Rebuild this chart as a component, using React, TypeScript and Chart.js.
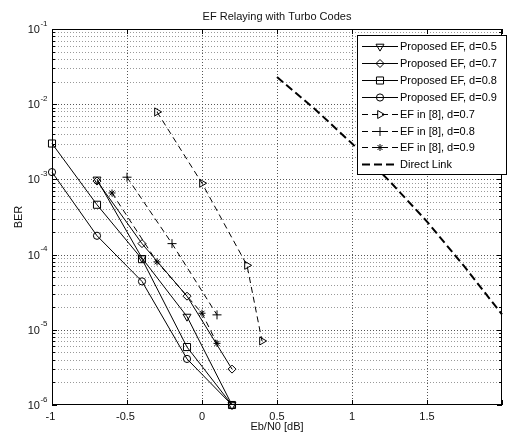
import React, { useEffect, useRef } from 'react';
import { Chart, registerables } from 'chart.js';

Chart.register(...registerables);

// ---------- data ----------
const xP05 = [-0.7, -0.4, -0.1, 0.2];
const yP05 = [1.0e-3, 9.0e-5, 1.5e-5, 1.0e-6];

const xP07 = [-0.7, -0.4, -0.1, 0.2];
const yP07 = [9.5e-4, 1.4e-4, 2.8e-5, 3.0e-6];

const xP08 = [-1, -0.7, -0.4, -0.1, 0.2];
const yP08 = [3.0e-3, 4.6e-4, 8.7e-5, 5.9e-6, 1.0e-6];

const xP09 = [-1, -0.7, -0.4, -0.1, 0.2];
const yP09 = [1.25e-3, 1.78e-4, 4.4e-5, 4.1e-6, 1.0e-6];

const xEF07 = [-0.3, 0, 0.3, 0.4];
const yEF07 = [7.9e-3, 8.9e-4, 7.2e-5, 7.1e-6];

const xEF08 = [-0.5, -0.2, 0.1];
const yEF08 = [1.07e-3, 1.4e-4, 1.58e-5];

const xEF09 = [-0.6, -0.3, 0, 0.1];
const yEF09 = [6.6e-4, 8.0e-5, 1.66e-5, 6.6e-6];

const xDirect = [0.5, 0.75, 1, 1.25, 1.5, 1.75, 2];
const yDirect = [2.3e-2, 8.7e-3, 3.0e-3, 9.5e-4, 2.75e-4, 6.9e-5, 1.6e-5];

const seriesLabels = [
  'Proposed EF, d=0.5',
  'Proposed EF, d=0.7',
  'Proposed EF, d=0.8',
  'Proposed EF, d=0.9',
  'EF in [8], d=0.7',
  'EF in [8], d=0.8',
  'EF in [8], d=0.9',
  'Direct Link',
];

const xTickValues = [-1, -0.5, 0, 0.5, 1, 1.5, 2];
const xTickLabels = ['-1', '-0.5', '0', '0.5', '1', '1.5', ''];
const yDecadeExps = [-6, -5, -4, -3, -2, -1];

const titleText = 'EF Relaying with Turbo Codes';
const xTitle = 'Eb/N0 [dB]';
const yTitle = 'BER';

// ---------- styles ----------
const FONT = '"Liberation Sans", Arial, Helvetica, sans-serif';
const DASH_EF = [6, 4];
const DASH_DL = [8, 4];

type Sty = { marker: string | null; rot: number; r: number; dash: number[]; width: number };
const styles: Sty[] = [
  { marker: 'triangle', rot: 180, r: 4.6, dash: [], width: 1 },
  { marker: 'rectRot', rot: 0, r: 4, dash: [], width: 1 },
  { marker: 'rect', rot: 0, r: 5, dash: [], width: 1 },
  { marker: 'circle', rot: 0, r: 3.6, dash: [], width: 1 },
  { marker: 'triangle', rot: 90, r: 4.6, dash: DASH_EF, width: 1 },
  { marker: 'cross', rot: 0, r: 4.5, dash: DASH_EF, width: 1 },
  { marker: 'star', rot: 0, r: 3.5, dash: DASH_EF, width: 1 },
  { marker: null, rot: 0, r: 0, dash: DASH_DL, width: 2 },
];

const seriesX = [xP05, xP07, xP08, xP09, xEF07, xEF08, xEF09, xDirect];
const seriesY = [yP05, yP07, yP08, yP09, yEF07, yEF08, yEF09, yDirect];

function drawMarker(ctx: CanvasRenderingContext2D, s: Sty, x: number, y: number) {
  if (!s.marker) return;
  const r = s.r;
  ctx.save();
  ctx.setLineDash([]);
  ctx.lineWidth = 1;
  ctx.strokeStyle = '#000';
  ctx.beginPath();
  switch (s.marker) {
    case 'triangle': {
      let a = (s.rot * Math.PI) / 180;
      ctx.moveTo(x + Math.sin(a) * r, y - Math.cos(a) * r);
      a += (2 * Math.PI) / 3;
      ctx.lineTo(x + Math.sin(a) * r, y - Math.cos(a) * r);
      a += (2 * Math.PI) / 3;
      ctx.lineTo(x + Math.sin(a) * r, y - Math.cos(a) * r);
      ctx.closePath();
      break;
    }
    case 'rectRot':
      ctx.moveTo(x, y - r);
      ctx.lineTo(x + r, y);
      ctx.lineTo(x, y + r);
      ctx.lineTo(x - r, y);
      ctx.closePath();
      break;
    case 'rect': {
      const h = Math.SQRT1_2 * r;
      ctx.rect(x - h, y - h, 2 * h, 2 * h);
      break;
    }
    case 'circle':
      ctx.arc(x, y, r, 0, Math.PI * 2);
      break;
    case 'cross':
      ctx.moveTo(x - r, y);
      ctx.lineTo(x + r, y);
      ctx.moveTo(x, y - r);
      ctx.lineTo(x, y + r);
      break;
    case 'star': {
      ctx.moveTo(x - r, y);
      ctx.lineTo(x + r, y);
      ctx.moveTo(x, y - r);
      ctx.lineTo(x, y + r);
      const d = r * Math.SQRT1_2;
      ctx.moveTo(x - d, y - d);
      ctx.lineTo(x + d, y + d);
      ctx.moveTo(x - d, y + d);
      ctx.lineTo(x + d, y - d);
      break;
    }
  }
  ctx.stroke();
  ctx.restore();
}

const framePlugin = {
  id: 'matlabFrame',
  beforeDraw(chart: any) {
    const ctx = chart.ctx as CanvasRenderingContext2D;
    ctx.save();
    ctx.fillStyle = '#fff';
    ctx.fillRect(0, 0, chart.width, chart.height);
    ctx.restore();
  },
  beforeDatasetsDraw(chart: any) {
    const ctx = chart.ctx as CanvasRenderingContext2D;
    const { left, right, top, bottom } = chart.chartArea;
    const xs = chart.scales.x;
    const ys = chart.scales.y;
    ctx.save();
    ctx.lineWidth = 1;
    ctx.setLineDash([1, 2]);
    for (let e = -6; e <= -2; e++) {
      for (let m = 1; m <= 9; m++) {
        const v = m * Math.pow(10, e);
        const py = Math.round(ys.getPixelForValue(v)) + 0.5;
        if (py >= bottom - 1 || py <= top + 1) continue;
        ctx.strokeStyle = m === 1 ? '#555' : '#999';
        ctx.beginPath();
        ctx.moveTo(left, py);
        ctx.lineTo(right, py);
        ctx.stroke();
      }
    }
    ctx.strokeStyle = '#555';
    for (const v of xTickValues) {
      const px = Math.round(xs.getPixelForValue(v)) + 0.5;
      if (px <= left + 1 || px >= right - 1) continue;
      ctx.beginPath();
      ctx.moveTo(px, top);
      ctx.lineTo(px, bottom);
      ctx.stroke();
    }
    ctx.restore();
  },
  afterDraw(chart: any) {
    const ctx = chart.ctx as CanvasRenderingContext2D;
    const { left, right, top, bottom } = chart.chartArea;
    const xs = chart.scales.x;
    const ys = chart.scales.y;
    ctx.save();
    ctx.setLineDash([]);
    ctx.strokeStyle = '#000';
    ctx.lineWidth = 1;
    ctx.strokeRect(left + 0.5, top + 0.5, right - left - 1, bottom - top - 1);
    ctx.beginPath();
    for (let e = -6; e <= -1; e++) {
      for (let m = 1; m <= 9; m++) {
        const v = m * Math.pow(10, e);
        if (v > 0.1 + 1e-12) break;
        const py = Math.round(ys.getPixelForValue(v)) + 0.5;
        const len = m === 1 ? 5 : 3;
        ctx.moveTo(left, py);
        ctx.lineTo(left + len, py);
        ctx.moveTo(right, py);
        ctx.lineTo(right - len, py);
      }
    }
    for (const v of xTickValues) {
      const px = Math.round(xs.getPixelForValue(v)) + 0.5;
      ctx.moveTo(px, bottom);
      ctx.lineTo(px, bottom - 5);
      ctx.moveTo(px, top);
      ctx.lineTo(px, top + 5);
    }
    ctx.stroke();

    ctx.fillStyle = '#111';
    for (const e of yDecadeExps) {
      const py = ys.getPixelForValue(Math.pow(10, e));
      ctx.font = '11px ' + FONT;
      const w10 = ctx.measureText('10').width;
      ctx.font = '8px ' + FONT;
      const sup = String(e);
      const ws = ctx.measureText(sup).width;
      const x0 = 47.5 - w10 - ws - 0.5;
      ctx.textAlign = 'left';
      ctx.textBaseline = 'alphabetic';
      ctx.font = '11px ' + FONT;
      ctx.fillText('10', x0, py + 4);
      ctx.font = '8px ' + FONT;
      ctx.fillText(sup, x0 + w10 + 0.5, py - 3.5);
    }
    ctx.font = '11px ' + FONT;
    ctx.textAlign = 'center';
    ctx.textBaseline = 'alphabetic';
    xTickValues.forEach((v, i) => {
      const lbl = xTickLabels[i];
      if (!lbl) return;
      const px = xs.getPixelForValue(v);
      const off = lbl.startsWith('-') ? -1.5 : 0;
      ctx.fillText(lbl, px + off, 419.5);
    });
    ctx.fillText(titleText, (left + right) / 2, 20);
    ctx.fillText(xTitle, (left + right) / 2, 430);
    ctx.save();
    ctx.translate(21.5, (top + bottom) / 2);
    ctx.rotate(-Math.PI / 2);
    ctx.fillText(yTitle, 0, 0);
    ctx.restore();

    // legend
    const lx = 357, ly = 35, lw = 149, lh = 139;
    ctx.fillStyle = '#fff';
    ctx.fillRect(lx, ly, lw, lh);
    ctx.strokeStyle = '#000';
    ctx.strokeRect(lx + 0.5, ly + 0.5, lw, lh);
    ctx.font = '11px ' + FONT;
    ctx.textAlign = 'left';
    ctx.textBaseline = 'middle';
    seriesLabels.forEach((lbl, i) => {
      const s = styles[i];
      const yy = Math.round(46 + i * 16.9) + 0.5;
      ctx.save();
      ctx.strokeStyle = '#000';
      ctx.lineWidth = s.width;
      ctx.setLineDash(s.dash);
      ctx.beginPath();
      ctx.moveTo(362, yy);
      ctx.lineTo(398, yy);
      ctx.stroke();
      ctx.restore();
      drawMarker(ctx, s, 380, yy);
      ctx.fillStyle = '#000';
      ctx.fillText(lbl, 400, yy + 0.5);
    });
    ctx.restore();
  },
};

export default function App() {
  const ref = useRef<HTMLCanvasElement | null>(null);
  useEffect(() => {
    document.body.style.margin = '0';
    const canvas = ref.current;
    if (!canvas) return;
    const datasets = seriesLabels.map((label, i) => {
      const s = styles[i];
      return {
        label,
        data: seriesX[i].map((x, j) => ({ x, y: seriesY[i][j] })),
        borderColor: '#000',
        borderWidth: s.width,
        borderDash: s.dash,
        pointStyle: s.marker || false,
        pointRotation: s.rot,
        pointRadius: s.marker ? s.r : 0,
        pointBorderColor: '#000',
        pointBackgroundColor: 'rgba(0,0,0,0)',
        pointBorderWidth: 1,
        fill: false,
        tension: 0,
        clip: false,
      };
    });
    const chart = new Chart(canvas, {
      type: 'line',
      data: { datasets } as any,
      options: {
        animation: false,
        responsive: false,
        maintainAspectRatio: false,
        devicePixelRatio: 1,
        layout: { padding: { top: 29, right: 1, bottom: 0, left: 0 } },
        plugins: {
          legend: { display: false },
          title: { display: false },
          tooltip: { enabled: false },
        },
        scales: {
          x: {
            type: 'linear',
            min: -1,
            max: 2,
            ticks: { display: false },
            grid: { display: false },
            border: { display: false },
            afterFit: (s: any) => {
              s.height = 32;
            },
          },
          y: {
            type: 'logarithmic',
            min: 1e-6,
            max: 1e-1,
            ticks: { display: false },
            grid: { display: false },
            border: { display: false },
            afterFit: (s: any) => {
              s.width = 52;
            },
          },
        },
      } as any,
      plugins: [framePlugin],
    });
    return () => chart.destroy();
  }, []);
  return (
    <div style={{ width: 508, height: 437 }}>
      <canvas ref={ref} width={508} height={437} style={{ display: 'block', width: 508, height: 437 }} />
    </div>
  );
}
